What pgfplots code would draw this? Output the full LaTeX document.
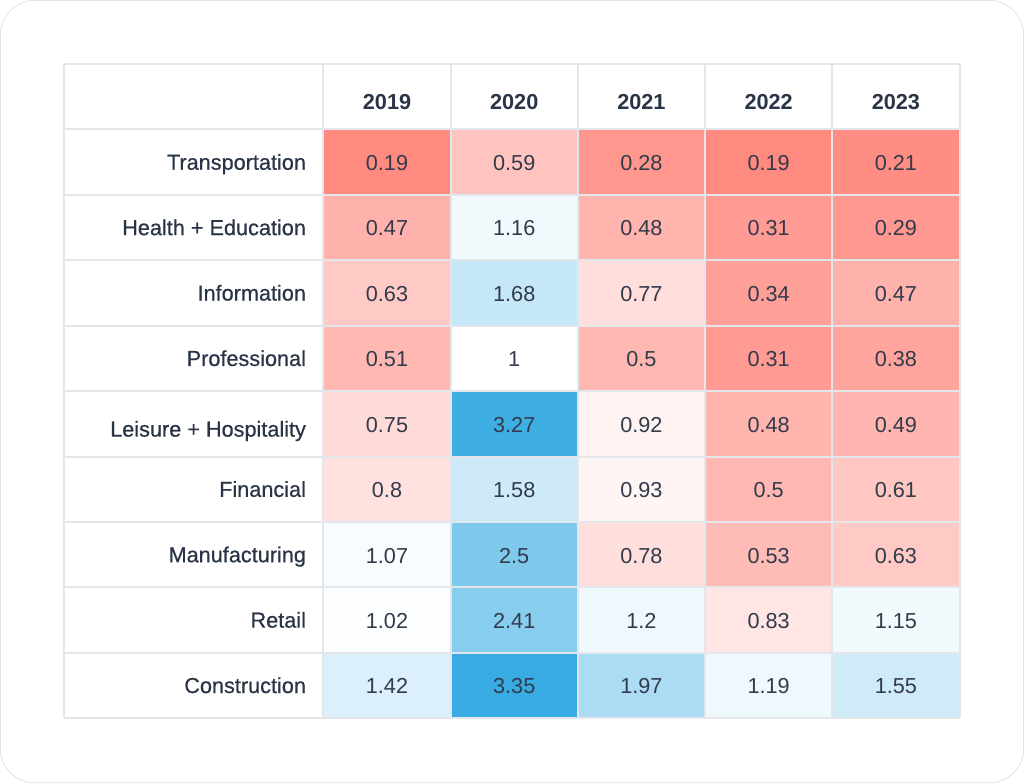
\documentclass[border=0pt]{standalone}
\usepackage{pgfplots}
\pgfplotsset{compat=1.18}
\usepackage{pgfplotstable}
\usepackage{fontspec}
\setmainfont{Liberation Sans}
\newfontfamily\medfont[FakeBold=0.6]{Liberation Sans}
\definecolor{txt}{HTML}{2A3447}
\definecolor{valc}{HTML}{323B4C}
\definecolor{gridc}{HTML}{E3E7EC}
\definecolor{cardc}{HTML}{E2E2E2}

\pgfplotstableread{
x y c label
0 0 1.42 1.42
1 0 3.35 3.35
2 0 1.97 1.97
3 0 1.19 1.19
4 0 1.55 1.55
0 1 1.02 1.02
1 1 2.41 2.41
2 1 1.2 1.2
3 1 0.83 0.83
4 1 1.15 1.15
0 2 1.07 1.07
1 2 2.5 2.5
2 2 0.78 0.78
3 2 0.53 0.53
4 2 0.63 0.63
0 3 0.8 0.8
1 3 1.58 1.58
2 3 0.93 0.93
3 3 0.5 0.5
4 3 0.61 0.61
0 4 0.75 0.75
1 4 3.27 3.27
2 4 0.92 0.92
3 4 0.48 0.48
4 4 0.49 0.49
0 5 0.51 0.51
1 5 1 1
2 5 0.5 0.5
3 5 0.31 0.31
4 5 0.38 0.38
0 6 0.63 0.63
1 6 1.68 1.68
2 6 0.77 0.77
3 6 0.34 0.34
4 6 0.47 0.47
0 7 0.47 0.47
1 7 1.16 1.16
2 7 0.48 0.48
3 7 0.31 0.31
4 7 0.29 0.29
0 8 0.19 0.19
1 8 0.59 0.59
2 8 0.28 0.28
3 8 0.19 0.19
4 8 0.21 0.21
}\data

\begin{document}
\begin{tikzpicture}
\begin{axis}[
  scale only axis, width=512pt, height=391.5pt,
  xmin=-3.055, xmax=5.020, ymin=-1.512, ymax=10.497,
  hide axis, clip=false,
  colormap={div}{rgb255(0)=(255,138,128) rgb255(81)=(255,255,255) rgb255(316)=(55,171,226)},
  point meta min=0.19, point meta max=3.35,
]
\draw[cardc, line width=0.4pt, rounded corners=17pt] (rel axis cs:0.002,0.002) rectangle (rel axis cs:0.998,0.998);
\addplot[matrix plot*, mesh/cols=5, point meta=explicit] table[x=x, y=y, meta=c] {\data};
\addplot[only marks, mark=none, point meta=explicit symbolic,
  nodes near coords={\pgfplotspointmeta},
  every node near coord/.append style={font=\fontsize{10.8}{12}\selectfont, text=valc, anchor=center, inner sep=0pt, text height=1.45ex, text depth=0.25ex, yshift=-1pt}]
  table[x=x, y=y, meta=label] {\data};
\pgfplotsinvokeforeach{-0.5,0.5,1.5,2.5,3.5,4.5,5.5,6.5,7.5,8.5,9.5}{
  \draw[gridc, line width=1pt] (axis cs:-2.54,#1) -- (axis cs:4.5,#1);
}
\pgfplotsinvokeforeach{-2.54,-0.5,0.5,1.5,2.5,3.5,4.5}{
  \draw[gridc, line width=1pt] (axis cs:#1,-0.5) -- (axis cs:#1,9.5);
}
\tikzset{hd/.style={font=\fontsize{10.8}{12}\selectfont\bfseries, text=txt, anchor=center, inner sep=0pt, text height=1.45ex, text depth=0.25ex, yshift=-1pt}}
\node[hd] at (axis cs:0,8.93) {2019};
\node[hd] at (axis cs:1,8.93) {2020};
\node[hd] at (axis cs:2,8.93) {2021};
\node[hd] at (axis cs:3,8.93) {2022};
\node[hd] at (axis cs:4,8.93) {2023};
\tikzset{rl/.style={anchor=east, font=\fontsize{10.8}{12}\selectfont\medfont, text=txt, inner sep=0pt, text height=1.45ex, text depth=0.25ex, yshift=-0.6pt}}
\node[rl] at (axis cs:-0.634,8) {Transportation};
\node[rl] at (axis cs:-0.634,7) {Health + Education};
\node[rl] at (axis cs:-0.634,6) {Information};
\node[rl] at (axis cs:-0.634,5) {Professional};
\node[rl] at (axis cs:-0.634,3.92) {Leisure + Hospitality};
\node[rl] at (axis cs:-0.634,3) {Financial};
\node[rl] at (axis cs:-0.634,2) {Manufacturing};
\node[rl] at (axis cs:-0.634,1) {Retail};
\node[rl] at (axis cs:-0.634,0) {Construction};
\end{axis}
\end{tikzpicture}
\end{document}
